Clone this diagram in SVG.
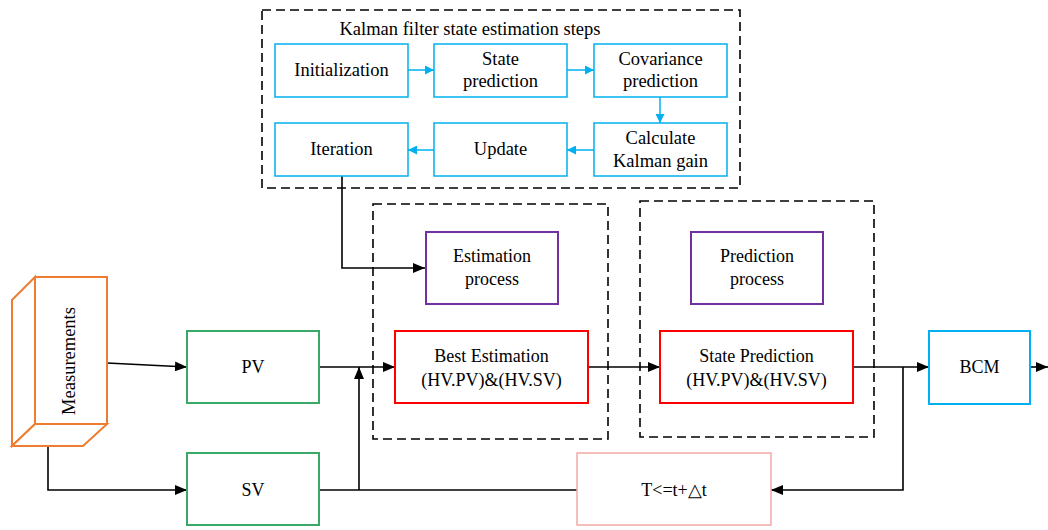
<svg xmlns="http://www.w3.org/2000/svg" width="1048" height="530" viewBox="0 0 1048 530">
<style>
text{font-family:'Liberation Serif','Times New Roman',serif;font-size:18px;fill:#000;text-anchor:middle;dominant-baseline:central}
.k{font-size:18.5px}
.dash{fill:none;stroke:#000;stroke-width:1.6;stroke-dasharray:9 5}
.kb{fill:#fff;stroke:#00b0f0;stroke-width:1.5}
.gr{fill:#fff;stroke:#3aa866;stroke-width:2}
.rd{fill:#fff;stroke:#ff0000;stroke-width:2}
.pu{fill:#fff;stroke:#7030a0;stroke-width:2}
.bl{fill:#fff;stroke:#00b0f0;stroke-width:2}
.pk{fill:#fff;stroke:#f4a8a8;stroke-width:1.5}
.or{fill:#fff;stroke:#ed7d31;stroke-width:2;stroke-linejoin:miter}
.c{fill:none;stroke:#000;stroke-width:1.6}
.cb{fill:none;stroke:#00b0f0;stroke-width:1.5}
</style>
<defs>
<marker id="ah" viewBox="0 0 12 10" refX="12" refY="5" markerWidth="12" markerHeight="10" markerUnits="userSpaceOnUse" orient="auto"><path d="M0,0 L12,5 L0,10 Z" fill="#000"/></marker>
<marker id="ahb" viewBox="0 0 10 10" refX="10" refY="5" markerWidth="10" markerHeight="9" markerUnits="userSpaceOnUse" orient="auto"><path d="M0,0 L10,5 L0,10 Z" fill="#00b0f0"/></marker>
</defs>

<g id="dashed-frames">
<rect class="dash" x="262" y="10" width="478" height="178"/>
<rect class="dash" x="373" y="204" width="235" height="235"/>
<rect class="dash" x="640" y="201" width="234" height="236"/>
</g>
<text class="k" x="470" y="29">Kalman filter state estimation steps</text>

<g id="connectors">
<line class="cb" x1="408" y1="70" x2="434" y2="70" marker-end="url(#ahb)"/>
<line class="cb" x1="567" y1="70" x2="594" y2="70" marker-end="url(#ahb)"/>
<line class="cb" x1="660" y1="97" x2="660" y2="123" marker-end="url(#ahb)"/>
<line class="cb" x1="594" y1="150" x2="567" y2="150" marker-end="url(#ahb)"/>
<line class="cb" x1="434" y1="150" x2="408" y2="150" marker-end="url(#ahb)"/>
<polyline class="c" points="342,176 342,268 425,268" marker-end="url(#ah)"/>
<line class="c" x1="107" y1="363" x2="187" y2="367" marker-end="url(#ah)"/>
<polyline class="c" points="48,446 48,490 187,490" marker-end="url(#ah)"/>
<line class="c" x1="319" y1="367" x2="395" y2="367" marker-end="url(#ah)"/>
<polyline class="c" points="319,490 577,490"/>
<line class="c" x1="359" y1="490" x2="359" y2="367" marker-end="url(#ah)"/>
<line class="c" x1="588" y1="367" x2="660" y2="367" marker-end="url(#ah)"/>
<line class="c" x1="853" y1="367" x2="929" y2="367" marker-end="url(#ah)"/>
<polyline class="c" points="903,367 903,490 771,490" marker-end="url(#ah)"/>
<line class="c" x1="1030" y1="367" x2="1048" y2="367" marker-end="url(#ah)"/>
</g>

<g id="initialization"><rect class="kb" x="275" y="44" width="133" height="53"/><text class="k" x="341.5" y="70">Initialization</text></g>
<g id="state-prediction-step"><rect class="kb" x="434" y="44" width="133" height="53"/><text class="k" x="500.5" y="59">State</text><text class="k" x="500.5" y="81">prediction</text></g>
<g id="covariance-prediction"><rect class="kb" x="594" y="44" width="133" height="53"/><text class="k" x="660.5" y="59">Covariance</text><text class="k" x="660.5" y="81">prediction</text></g>
<g id="calculate-kalman-gain"><rect class="kb" x="594" y="123" width="133" height="53"/><text class="k" x="660.5" y="138">Calculate</text><text class="k" x="660.5" y="161">Kalman gain</text></g>
<g id="update"><rect class="kb" x="434" y="123" width="133" height="53"/><text class="k" x="500.5" y="149">Update</text></g>
<g id="iteration"><rect class="kb" x="275" y="123" width="133" height="53"/><text class="k" x="341.5" y="149">Iteration</text></g>

<g id="estimation-process"><rect class="pu" x="426" y="232" width="132" height="72"/><text x="492" y="256">Estimation</text><text x="492" y="279">process</text></g>
<g id="prediction-process"><rect class="pu" x="691" y="232" width="132" height="72"/><text x="757" y="256">Prediction</text><text x="757" y="279">process</text></g>

<g id="measurements">
<polygon class="or" points="12,300 35,277 35,424 12,446"/>
<polygon class="or" points="12,446 35,424 107,424 83,446"/>
<rect class="or" x="35" y="277" width="72" height="147"/>
<text class="k" transform="translate(69,361) rotate(-90)">Measurements</text>
</g>

<g id="pv"><rect class="gr" x="187" y="331" width="132" height="72"/><text x="253" y="367">PV</text></g>
<g id="sv"><rect class="gr" x="187" y="453" width="132" height="72"/><text x="253" y="490">SV</text></g>
<g id="best-estimation"><rect class="rd" x="395" y="331" width="193" height="72"/><text x="491.5" y="356">Best Estimation</text><text x="491.5" y="380">(HV.PV)&amp;(HV.SV)</text></g>
<g id="state-prediction"><rect class="rd" x="660" y="331" width="193" height="72"/><text x="756.5" y="356">State Prediction</text><text x="756.5" y="380">(HV.PV)&amp;(HV.SV)</text></g>
<g id="bcm"><rect class="bl" x="929" y="331" width="101" height="73"/><text x="979.5" y="367">BCM</text></g>
<g id="time-step"><rect class="pk" x="577" y="453" width="194" height="72"/><text x="674" y="490">T&lt;=t+△t</text></g>
</svg>
